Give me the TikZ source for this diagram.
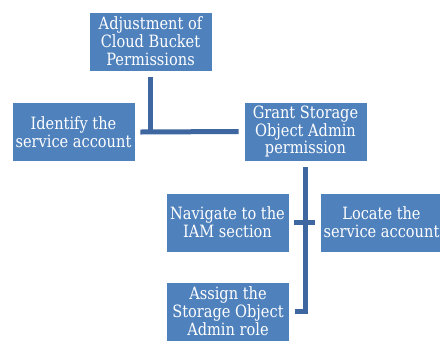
\documentclass[tikz,border=0pt]{standalone}
\usepackage{fontspec}
\setmainfont{DejaVu Serif}[FakeStretch=0.86]
\definecolor{boxblue}{RGB}{79,129,189}
\definecolor{lineblue}{RGB}{62,102,160}
\tikzset{tbox/.style={
    rectangle,
    draw=white,
    line width=0.8bp,
    fill=boxblue,
    text=white,
    align=center,
    inner sep=0pt,
    minimum height=59bp,
    minimum width=123bp,
    font=\fontsize{17}{18}\selectfont
  },
  conn/.style={draw=lineblue,line width=5bp},
}
\begin{document}
\begin{tikzpicture}[x=1bp,y=-1bp]
  \clip (0,0) rectangle (440,340);
  \fill[white] (0,0) rectangle (440,340);
  \node [tbox] (adjust) at (150.5,41.5) {Adjustment of\\Cloud Bucket\\Permissions};
  \node [tbox] (ident) at (73.5,132) {Identify the\\service account};
  \node [tbox] (grant) at (305.5,131.5) {Grant Storage\\Object Admin\\permission};
  \node [tbox] (navig) at (227.5,222.5) {Navigate to the\\IAM section};
  \node [tbox] (locate) at (381.5,222.5) {Locate the\\service account};
  \node [tbox] (assign) at (228,311.5) {Assign the\\Storage Object\\Admin role};
  \draw[conn] ([yshift=-6bp]adjust.south) -- (adjust.south |- ident.east);
  \draw[conn] ([xshift=5bp]ident.east) -- ([xshift=-5bp]grant.west);
  \draw[conn] ([yshift=-6bp]grant.south) |- ([xshift=5bp]assign.east);
  \draw[conn] ([xshift=5bp]navig.east) -- ([xshift=-5bp]locate.west);
\end{tikzpicture}
\end{document}
